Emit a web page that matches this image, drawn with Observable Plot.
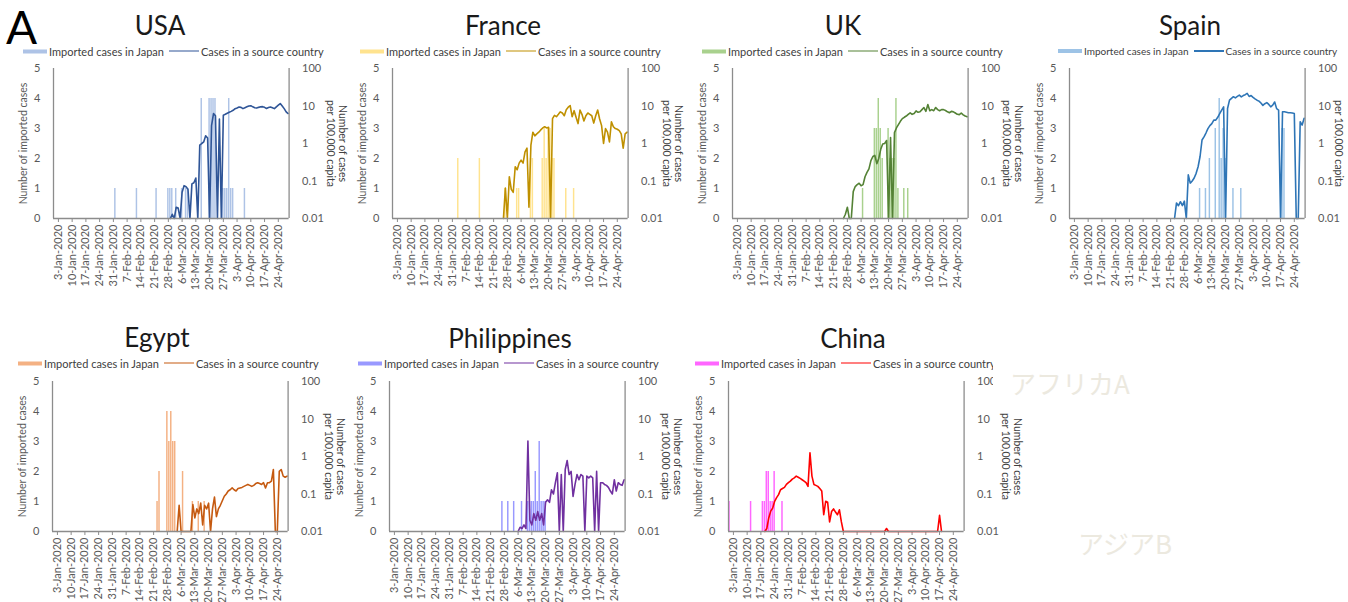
<!DOCTYPE html>
<html><head><meta charset="utf-8">
<script src="https://cdn.jsdelivr.net/npm/d3@7"></script>
<script src="https://cdn.jsdelivr.net/npm/@observablehq/plot@0.6"></script>
<style>
body{margin:0;background:#fff;font-family:Lato,"Noto Sans",sans-serif;}
#root{position:relative;width:1348px;height:602px;overflow:hidden;background:#fff;}
.panel{position:absolute;}
.layer{position:absolute;left:0;top:0;}
.title{position:absolute;font-size:26px;line-height:1;color:#1a1a1a;transform:translate(-50%,-50%);white-space:nowrap;}
.legend{position:absolute;font-size:11px;line-height:1;color:#404040;white-space:nowrap;display:flex;align-items:center;transform:translateY(-50%);}
.sw{display:inline-block;width:24px;height:4px;margin-right:2px;}
.ln{display:inline-block;width:30px;height:1.5px;margin:0 2px 0 5px;}
.faint{position:absolute;color:#ece9df;font-family:"Noto Sans CJK JP",sans-serif;font-size:26px;line-height:1;white-space:nowrap;transform:translateY(-50%);}
.big{position:absolute;left:6px;top:4px;font-size:46px;line-height:1;color:#000;}
</style></head><body><div id="root"></div><script>
// ---------- data ----------
const countries = ["USA","France","UK","Spain","Egypt","Philippines","China"];
const barColors = ["#aec3e6","#ffe38f","#a9d18e","#9dc3e6","#f4b183","#9999ff","#ff66ff"];
const lineColors = ["#2f5597","#bf9000","#548235","#2e75b6","#c55a11","#7030a0","#ff0000"];
const legendBarLabel = "Imported cases in Japan";
const legendLineLabel = "Cases in a source country";
const leftTitle = "Number of imported cases";
const rightTitleOuter = "Number of cases";
const rightTitleInner = "per 100,000 capita";
const leftTicks = [0,1,2,3,4,5];
const rightTicks = [0.01,0.1,1,10,100];
const rightTickLabels = ["0.01","0.1","1","10","100"];
const tickDates = ["01-03","01-10","01-17","01-24","01-31","02-07","02-14","02-21","02-28","03-06","03-13","03-20","03-27","04-03","04-10","04-17","04-24"];
const tickLabels = ["3-Jan-2020","10-Jan-2020","17-Jan-2020","24-Jan-2020","31-Jan-2020","7-Feb-2020","14-Feb-2020","21-Feb-2020","28-Feb-2020","6-Mar-2020","13-Mar-2020","20-Mar-2020","27-Mar-2020","3-Apr-2020","10-Apr-2020","17-Apr-2020","24-Apr-2020"];

// imported cases in Japan: [date, count]
const usaImported = [["02-01",1],["02-12",1],["02-22",1],["02-28",1],["02-29",1],["03-01",1],["03-03",1],["03-06",1],["03-08",1],["03-09",1],["03-16",4],["03-20",4],["03-21",4],["03-22",4],["03-23",4],["03-27",1],["03-28",1],["03-29",1],["03-30",4],["03-31",1],["04-01",1],["04-07",1]];
const franceImported = [["02-03",2],["02-14",2],["02-27",1],["03-04",1],["03-05",1],["03-11",2],["03-12",2],["03-17",2],["03-18",3],["03-19",2],["03-20",3],["03-21",3],["03-22",2],["03-23",2],["03-29",1],["04-02",1]];
const ukImported = [["03-07",1],["03-13",3],["03-14",3],["03-15",4],["03-16",3],["03-17",2],["03-20",3],["03-21",2],["03-22",2],["03-23",2],["03-24",4],["03-25",1],["03-28",1],["03-30",1]];
const spainImported = [["03-07",1],["03-10",1],["03-12",2],["03-15",3],["03-17",4],["03-18",2],["03-19",3],["03-20",2],["03-24",1],["03-28",1],["04-18",3],["04-19",3]];
const egyptImported = [["02-23",1],["02-24",2],["02-28",4],["02-29",3],["03-01",4],["03-02",3],["03-03",3],["03-07",2],["03-12",1],["03-15",1],["03-18",1]];
const philippinesImported = [["02-27",1],["03-01",1],["03-04",1],["03-08",1],["03-11",1],["03-12",1],["03-13",1],["03-14",1],["03-15",2],["03-16",1],["03-17",3],["03-18",1],["03-19",1],["03-20",1]];
const chinaImported = [["01-01",1],["01-12",1],["01-18",1],["01-19",1],["01-20",2],["01-21",2],["01-22",1],["01-23",1],["01-24",2],["01-28",1]];

// cases per 100,000 capita in the source country: daily values from a start date (0 = none)
const usaCasesStart = "02-29";
const usaCases = [0,0.013,0,0.02,0.019,0,0.05,0.075,0.07,0.06,0,0.084,0.09,0.12,0,0.9,1.0,1.1,1.6,1.4,0,3.0,6.3,5.5,0,4.5,0,5.7,6.0,6.4,6.8,7.2,7.7,8.5,8.9,9.4,9.2,8.5,9.0,9.5,10,10.2,9.5,9.0,8.8,9.2,9.5,9.6,9.2,8.6,9.1,9.4,9.0,8.5,9.5,10.5,11.6,10,8.5,7.0,6.3];
const franceCasesStart = "02-26";
const franceCases = [0,0.065,0,0.13,0.06,0.05,0.24,0.2,0.3,0.36,0.3,0.6,0.75,0.02,0.9,2.0,1.6,1.8,2.0,2.3,2.6,2.8,2.6,2.7,0,4.6,5.6,5.2,6.0,7.0,6.5,5.5,8.0,9.3,10.3,5.2,7.5,5.0,3.4,7.8,6.0,4.0,5.5,6.5,6.0,5.5,3.5,5.5,7.8,4.5,3.0,1.0,2.5,2.0,1.1,3.8,2.8,2.5,2.4,2.2,1.8,0.75,1.8,2.0];
const ukCasesStart = "02-26";
const ukCases = [0,0.013,0.02,0,0,0.052,0.071,0.08,0.087,0.075,0.08,0.13,0.17,0.21,0.35,0.45,0.48,0.29,0.4,0.7,0.97,1.0,1.2,0,1.45,0,1.95,2.6,3.2,3.9,4.6,5.0,5.4,6.0,6.6,6.0,6.3,7.4,6.8,7.0,8.0,9.1,7.2,11,7.5,8.0,7.5,9.1,8.0,7.5,8.0,8.0,7.6,7.0,6.6,7.2,7.0,6.5,6.0,5.9,6.5,5.8,5.4,5.2];
const spainCasesStart = "02-23";
const spainCases = [0,0.026,0.022,0.028,0.022,0.029,0,0.146,0.088,0.1,0.12,0.16,0.24,0.45,1.24,1.5,1.9,2.5,3.0,3.4,4.2,4.2,5.0,6.3,7.8,9.5,0,8.6,14.3,16,17.7,16.5,18,19.5,17.5,19,20,21.7,18,19,17,15.5,14.3,13.5,12,10.4,11.5,12.3,11,9.5,10.5,12.8,8.5,7.8,0,7.0,7.0,6.8,6.6,6.6,6.5,6.3,0,0,3.8,3.1,4.7];
const egyptCasesStart = "03-04";
const egyptCases = [0,0.05,0,0,0,0,0,0,0.052,0.023,0.04,0.03,0.057,0.015,0.05,0.04,0.057,0,0.04,0.083,0.025,0.04,0.05,0.066,0.087,0.1,0.12,0.13,0.145,0.13,0.12,0.14,0.145,0.15,0.16,0.17,0.18,0.17,0.16,0.17,0.19,0.2,0.19,0.18,0.2,0.145,0.2,0.2,0.22,0.45,0,0,0.4,0.45,0.3,0.28,0.3];
const philippinesCasesStart = "03-06";
const philippinesCases = [0,0.013,0.012,0.015,0.012,2.6,0.02,0.015,0.03,0.02,0.034,0.02,0.03,0.015,0.06,0.07,0.06,0.13,0.1,0.2,0.37,0,0.33,0,0.45,0.78,0.33,0.4,0.086,0.18,0.33,0.24,0.33,0.3,0,0.3,0.27,0.3,0.27,0,0.4,0,0.2,0.2,0.18,0.17,0.15,0.12,0.1,0.24,0.12,0.2,0.18,0.17,0.24];
const chinaCasesStart = "01-19";
const chinaCases = [0,0.012,0.023,0.035,0.042,0.064,0.08,0.096,0.13,0.14,0.15,0.18,0.2,0.22,0.25,0.27,0.3,0.28,0.26,0.24,0.22,0.2,0.16,1.25,0.3,0.18,0.17,0.16,0.14,0.12,0.028,0.064,0.06,0.018,0.034,0.04,0.033,0.028,0.038,0.018,0,
 0,0,0,0,0,0,0,0,0,0,0,0,0,0,0,0,0,0,0,0,0,0.012,0,0,0,0,0,0,0,0,0,0,0,0,0,0,0,0,0,0,0,0,0,0,0,0,0,0,0.027,0];

const importedAll = [usaImported,franceImported,ukImported,spainImported,egyptImported,philippinesImported,chinaImported];
const casesAll = [[usaCasesStart,usaCases],[franceCasesStart,franceCases],[ukCasesStart,ukCases],[spainCasesStart,spainCases],[egyptCasesStart,egyptCases],[philippinesCasesStart,philippinesCases],[chinaCasesStart,chinaCases]];

// ---------- layout ----------
const layout = [
  {left:53.3, top:68, titleX:160, titleY:25, legendX:23, legendY:51, legendFont:11, rdx:41, outer:true},
  {left:391.7, top:68, titleX:503, titleY:25, legendX:360, legendY:51, legendFont:11, rdx:38, outer:true},
  {left:731.7, top:68, titleX:843, titleY:25, legendX:702, legendY:51, legendFont:11, rdx:38, outer:true},
  {left:1069.3, top:68, titleX:1190, titleY:25, legendX:1058, legendY:51, legendFont:10, rdx:33, outer:false},
  {left:51.7, top:381, titleX:157, titleY:337, legendX:18, legendY:363, legendFont:11, rdx:40, outer:true},
  {left:389.3, top:381, titleX:510, titleY:338, legendX:358, legendY:363, legendFont:11, rdx:40, outer:true},
  {left:728.3, top:381, titleX:853, titleY:338, legendX:695, legendY:363, legendFont:11, rdx:41, outer:true}
];
const W = 340, ML = 54, MT = 10, PH = 150, MB = 76, PW = 235.6;
const MR = W - ML - PW, H = MT + PH + MB;
const axisColor = "#8c8c8c", textColor = "#595959";
const DAY = 864e5;
const toDate = s => new Date(`2020-${s}T00:00:00Z`);
const xDomain = [new Date("2019-12-31T12:00:00Z"), new Date("2020-04-29T12:00:00Z")];
const tickDateObjs = tickDates.map(toDate);
const labelOf = new Map(tickDateObjs.map((d,i)=>[+d, tickLabels[i]]));
const rightLabelOf = new Map(rightTicks.map((d,i)=>[d, rightTickLabels[i]]));
const font = "Lato, 'Noto Sans', sans-serif";

const root = document.getElementById("root");
function add(html, cls, style){ const el=document.createElement("div"); el.className=cls; el.innerHTML=html; Object.assign(el.style, style); root.appendChild(el); return el; }

countries.forEach((name, i) => {
  const L = layout[i];
  const panel = add("", "panel", {left:(L.left-ML)+"px", top:(L.top-MT)+"px", width:W+"px", height:H+"px"});
  const common = {width: W, height: H, marginLeft: ML, marginRight: MR, marginTop: MT, marginBottom: MB,
    style: {fontFamily: font, color: textColor, overflow: "visible", background: "transparent"}};
  const bars = importedAll[i].map(([s,v]) => ({d: toDate(s), v}));
  const barPlot = Plot.plot({...common,
    x: {type: "utc", domain: xDomain},
    y: {domain: [0,5]},
    marks: [
      Plot.rect(bars, {x1: b => new Date(+b.d - DAY/2), x2: b => new Date(+b.d + DAY/2), y1: 0, y2: "v", fill: barColors[i], insetLeft: 0.25, insetRight: 0.25}),
      Plot.axisY({ticks: leftTicks, tickFormat: d => String(d), tickSize: 0, tickPadding: 13, fontSize: 11, label: null}),
      Plot.axisX({ticks: tickDateObjs, tickFormat: d => labelOf.get(+d), tickRotate: -90, tickSize: 4, tickPadding: 2, fontSize: 11, stroke: axisColor, label: null}),
      Plot.text([leftTitle], {frameAnchor: "left", dx: -30, rotate: -90, textAnchor: "middle", fontSize: 10.5, fill: textColor})
    ]});
  barPlot.classList.add("layer");
  panel.appendChild(barPlot);

  const [start, vals] = casesAll[i];
  const t0 = +toDate(start);
  const pts = vals.map((v,k) => ({d: new Date(t0 + k*DAY), v: Math.max(v, 0.01)}));
  const lineMarks = [
      Plot.line(pts, {x: "d", y: "v", stroke: lineColors[i], strokeWidth: 1.6}),
      Plot.ruleY([0.01], {stroke: axisColor, strokeWidth: 1.3}),
      Plot.ruleX(xDomain, {stroke: axisColor, strokeWidth: 1.3}),
      Plot.text(rightTicks, {x: xDomain[1], y: d => d, text: d => rightLabelOf.get(d), dx: 13, textAnchor: "start", fontSize: 11, fill: textColor}),
      Plot.text([rightTitleInner], {frameAnchor: "right", dx: L.rdx, rotate: 90, textAnchor: "middle", fontSize: 10.5, fill: "#404040"})
  ];
  if (L.outer) lineMarks.push(Plot.text([rightTitleOuter], {frameAnchor: "right", dx: L.rdx + 12.5, rotate: 90, textAnchor: "middle", fontSize: 10.5, fill: "#404040"}));
  const linePlot = Plot.plot({...common,
    x: {type: "utc", domain: xDomain, axis: null},
    y: {type: "log", domain: [0.01,100], axis: null},
    marks: lineMarks});
  linePlot.classList.add("layer");
  panel.appendChild(linePlot);

  add(name, "title", {left: L.titleX+"px", top: L.titleY+"px"});
  add(`<span class="sw" style="background:${barColors[i]}"></span>${legendBarLabel}<span class="ln" style="background:${lineColors[i]}"></span>${legendLineLabel}`,
      "legend", {left: L.legendX+"px", top: L.legendY+"px", fontSize: L.legendFont+"px"});
});

add("A", "big", {});
add("", "panel", {left:"993px", top:"345px", width:"200px", height:"66px", background:"#fff"});
add("アフリカA", "faint", {left:"1010px", top:"383px"});
add("アジアB", "faint", {left:"1078px", top:"543px"});
</script></body></html>
